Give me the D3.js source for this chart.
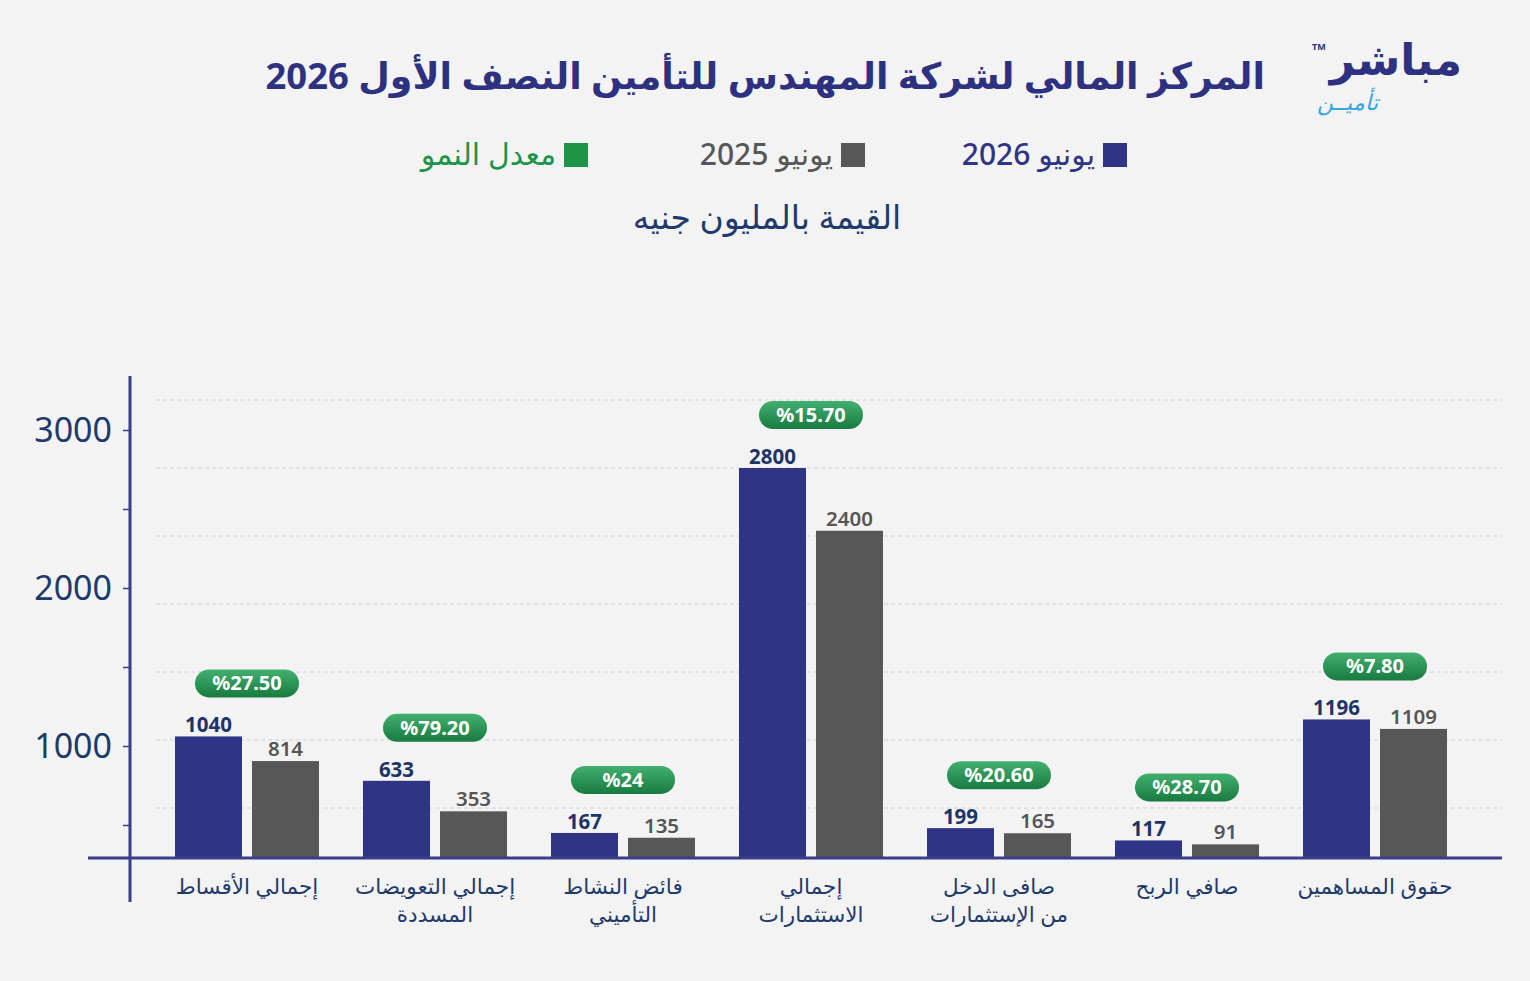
<!DOCTYPE html>
<html lang="ar">
<head>
<meta charset="utf-8">
<script src="https://cdn.jsdelivr.net/npm/d3@7"></script>
<style>
  html, body { margin: 0; padding: 0; background: #f3f3f3; }
  svg { display: block; }
  text { font-family: "Noto Sans", "DejaVu Sans", sans-serif; }
</style>
</head>
<body>
<div id="chart"></div>
<script>
// categories, left to right as drawn
const categories = [
  ['إجمالي الأقساط'],
  ['إجمالي التعويضات', 'المسددة'],
  ['فائض النشاط', 'التأميني'],
  ['إجمالي', 'الاستثمارات'],
  ['صافى الدخل', 'من الإستثمارات'],
  ['صافي الربح'],
  ['حقوق المساهمين']
];
const june2026 = [1040, 633, 167, 2800, 199, 117, 1196];
const june2025 = [814, 353, 135, 2400, 165, 91, 1109];
const growth = ['%27.50', '%79.20', '%24', '%15.70', '%20.60', '%28.70', '%7.80'];
const axisTicks = [500, 1000, 1500, 2000, 2500, 3000];
const axisLabels = [1000, 2000, 3000];
const gridValues = [800, 1200, 1600, 2000, 2400, 2800, 3200];

const title = 'المركز المالي لشركة المهندس للتأمين النصف الأول 2026';
const subtitle = 'القيمة بالمليون جنيه';
const legendItems = [
  { label: 'يونيو 2026', color: '#2f3485', text: '#2f3485' },
  { label: 'يونيو 2025', color: '#575757', text: '#575757' },
  { label: 'معدل النمو', color: '#1e9448', text: '#1e9448' }
];

const width = 1530, height = 981;
const baseY = 858;
const NAVY = '#2f3485', GRAY = '#575757', LABEL = '#1f3a6b';

const svg = d3.select('#chart').append('svg')
  .attr('width', width).attr('height', height)
  .attr('viewBox', `0 0 ${width} ${height}`);

svg.append('rect').attr('width', width).attr('height', height).attr('fill', '#f3f3f3');

const defs = svg.append('defs');
const grad = defs.append('linearGradient').attr('id', 'pill')
  .attr('x1', 0).attr('y1', 0).attr('x2', 0).attr('y2', 1);
grad.append('stop').attr('offset', '0%').attr('stop-color', '#43b06f');
grad.append('stop').attr('offset', '100%').attr('stop-color', '#187a40');

// x: groups
const x = d3.scaleBand()
  .domain(d3.range(categories.length))
  .range([153, 1469])
  .paddingInner(0.234)
  .paddingOuter(0.117);
const sub = d3.scaleBand().domain([0, 1]).range([0, x.bandwidth()]).paddingInner(0.13);

// bars are drawn on a compressed (piecewise) scale, like the infographic
const yBar = d3.scaleLinear().domain([0, 200, 1200, 2800]).range([baseY, 828, 719, 468]);
// left axis scale
const yAxis = d3.scaleLinear().domain([0, 3000]).range([904, 430]);
// gridline scale
const yGrid = d3.scaleLinear().domain([2800, 3200]).range([468, 400]);

// gridlines
svg.append('g').selectAll('line').data(gridValues).join('line')
  .attr('x1', 156).attr('x2', 1502)
  .attr('y1', d => yGrid(d)).attr('y2', d => yGrid(d))
  .attr('stroke', '#d0d0d0').attr('stroke-width', 1)
  .attr('stroke-dasharray', '4,3');

// left axis
const axis = svg.append('g').attr('transform', 'translate(130,0)')
  .call(d3.axisLeft(yAxis).tickValues(axisTicks).tickSize(7).tickFormat(''));
axis.select('.domain').remove();
axis.selectAll('.tick line').attr('stroke', '#3a3d8a').attr('stroke-width', 1.5);
svg.append('line').attr('x1', 130).attr('x2', 130).attr('y1', 376).attr('y2', 902)
  .attr('stroke', '#3a3d8a').attr('stroke-width', 3);
svg.append('g').selectAll('text').data(axisLabels).join('text')
  .attr('x', 112).attr('y', d => yAxis(d) + 12)
  .attr('text-anchor', 'end')
  .attr('font-size', 34)
  .attr('fill', '#1d3a6b')
  .text(d => d);

// bars
const groups = svg.append('g').selectAll('g').data(categories).join('g')
  .attr('transform', (d, i) => `translate(${x(i)},0)`);

groups.append('rect')
  .attr('x', sub(0)).attr('width', sub.bandwidth())
  .attr('y', (d, i) => yBar(june2026[i]))
  .attr('height', (d, i) => baseY - yBar(june2026[i]))
  .attr('fill', NAVY);
groups.append('rect')
  .attr('x', sub(1)).attr('width', sub.bandwidth())
  .attr('y', (d, i) => yBar(june2025[i]))
  .attr('height', (d, i) => baseY - yBar(june2025[i]))
  .attr('fill', GRAY);

groups.append('text')
  .attr('x', sub(0) + sub.bandwidth() / 2)
  .attr('y', (d, i) => yBar(june2026[i]) - 4)
  .attr('text-anchor', 'middle').attr('font-size', 20.5).attr('font-weight', 700)
  .attr('fill', '#1d3566')
  .text((d, i) => june2026[i]);
groups.append('text')
  .attr('x', sub(1) + sub.bandwidth() / 2)
  .attr('y', (d, i) => yBar(june2025[i]) - 5)
  .attr('text-anchor', 'middle').attr('font-size', 20.5).attr('font-weight', 600)
  .attr('fill', '#555555')
  .text((d, i) => june2025[i]);

// growth pills
const pill = groups.append('g')
  .attr('transform', (d, i) => `translate(${x.bandwidth() / 2},${yBar(june2026[i]) - 53})`);
pill.append('rect')
  .attr('x', -52).attr('y', -14).attr('width', 104).attr('height', 28)
  .attr('rx', 14).attr('fill', 'url(#pill)');
pill.append('text')
  .attr('y', 7).attr('text-anchor', 'middle')
  .attr('font-size', 20).attr('font-weight', 700).attr('fill', '#ffffff')
  .text((d, i) => growth[i]);

// baseline
svg.append('line').attr('x1', 88).attr('x2', 1502).attr('y1', baseY).attr('y2', baseY)
  .attr('stroke', '#3a3d8a').attr('stroke-width', 3);

// category labels
groups.append('text')
  .attr('direction', 'rtl')
  .attr('text-anchor', 'middle')
  .attr('font-size', 21.5).attr('font-weight', 500)
  .attr('fill', LABEL)
  .selectAll('tspan').data(d => d).join('tspan')
  .attr('x', x.bandwidth() / 2)
  .attr('y', (d, j) => 894 + j * 28)
  .text(d => d);

// title
svg.append('text')
  .attr('x', 1265).attr('y', 89)
  .attr('direction', 'rtl').attr('text-anchor', 'start')
  .attr('font-size', 36.4).attr('font-weight', 700)
  .attr('fill', '#2e3180')
  .text(title);

// logo
svg.append('text').attr('x', 1462).attr('y', 75)
  .attr('direction', 'rtl').attr('text-anchor', 'start')
  .attr('font-size', 44).attr('font-weight', 800).attr('fill', '#2e3180')
  .text('مباشر');
svg.append('text').attr('x', 1312).attr('y', 50)
  .attr('font-size', 9).attr('font-weight', 700).attr('fill', '#2e3180').text('TM');
svg.append('text').attr('x', 1378).attr('y', 110)
  .attr('direction', 'rtl').attr('text-anchor', 'start')
  .attr('font-size', 22).attr('font-style', 'italic').attr('fill', '#33a6dc')
  .text('تأميــن');

// legend
const legendX = [1127, 865, 588];
const legend = svg.append('g').selectAll('g').data(legendItems).join('g')
  .attr('transform', (d, i) => `translate(${legendX[i]},155)`);
legend.append('rect').attr('x', -24).attr('y', -12).attr('width', 24).attr('height', 24)
  .attr('fill', d => d.color);
legend.append('text')
  .attr('x', -32).attr('y', 10)
  .attr('direction', 'rtl').attr('text-anchor', 'start')
  .attr('font-size', 30).attr('font-weight', 500)
  .attr('fill', d => d.text)
  .text(d => d.label);

// subtitle
svg.append('text')
  .attr('x', 767).attr('y', 229)
  .attr('direction', 'rtl').attr('text-anchor', 'middle')
  .attr('font-size', 33)
  .attr('fill', '#1f3a6b')
  .text(subtitle);
</script>
</body>
</html>
